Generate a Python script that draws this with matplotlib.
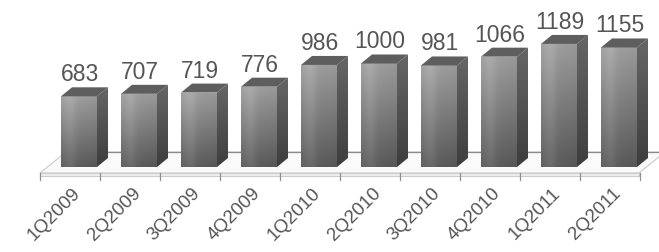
import numpy as np
import matplotlib
matplotlib.use("Agg")
import matplotlib.pyplot as plt
from matplotlib.patches import Polygon, Rectangle

categories = ["1Q2009", "2Q2009", "3Q2009", "4Q2009", "1Q2010",
              "2Q2010", "3Q2010", "4Q2010", "1Q2011", "2Q2011"]
values = [683, 707, 719, 776, 986, 1000, 981, 1066, 1189, 1155]

W, H = 659, 252
fig = plt.figure(figsize=(W / 100, H / 100), dpi=100)
ax = fig.add_axes([0, 0, 1, 1])
ax.set_axis_off()

# scales: px per x-unit and px per value
PX_X = 60.0
PX_Y = 0.1035
X0_PX = 79.0          # first bar centre (px from left)
Y0_PX = 85.0          # baseline (px from bottom)
ax.set_xlim(-X0_PX / PX_X, (W - X0_PX) / PX_X)
ax.set_ylim(-Y0_PX / PX_Y, (H - Y0_PX) / PX_Y)

def px2y(py_top):
    return (H - py_top - Y0_PX) / PX_Y

def px2x(px):
    return (px - X0_PX) / PX_X

dx = 11 / PX_X   # depth offset
dy = 9 / PX_Y
bw = 36 / PX_X
x = np.arange(len(values))

# floor
fy_front = px2y(173)
fy_back = px2y(152)
fx_l = px2x(40)
fx_r = px2x(639)
fdx = 26 / PX_X
floor = Polygon([(fx_l, fy_front), (fx_r, fy_front), (fx_r + fdx, fy_back),
                 (fx_l + fdx, fy_back)], closed=True, facecolor="#fafafa",
                edgecolor="#cfcfcf", lw=0.9, zorder=1)
ax.add_patch(floor)
ax.plot([fx_l + fdx, fx_r + fdx], [fy_back, fy_back], color="#8a8a8a", lw=0.9, zorder=1.5)
slab = Rectangle((fx_l, px2y(176)), fx_r - fx_l, fy_front - px2y(176),
                 facecolor="#eeeeee", edgecolor="#cccccc", lw=0.8, zorder=1.6)
ax.add_patch(slab)
for k in range(len(values) + 1):
    tx = fx_l + k
    ax.plot([tx, tx], [px2y(173), px2y(180)], color="#909090", lw=0.9, zorder=1.7)

# gradients
ny = 64
front_grad = np.zeros((ny, 32, 3))
vert = np.linspace(0.63, 0.37, ny)[:, None]
hz = np.linspace(0, 1, 32)[None, :]
hl = 0.05 * np.exp(-((hz - 0.25) / 0.18) ** 2) - 0.03 * hz
front_grad[:] = np.clip(vert + hl, 0, 1)[:, :, None]
side_grad = np.zeros((ny, 8, 3))
side_grad[:] = np.clip(np.linspace(0.40, 0.24, ny)[:, None] + np.zeros((1, 8)), 0, 1)[:, :, None]

bars = ax.bar(x, values, width=bw, facecolor="none", edgecolor="none", zorder=3)
for xi, v, b in zip(x, values, bars):
    l, r = xi - bw / 2, xi + bw / 2
    im = ax.imshow(front_grad, extent=(l, r, 0, v), aspect="auto",
                   origin="upper", zorder=3, interpolation="bilinear")
    im.set_clip_path(b)
    side = Polygon([(r, 0), (r + dx, dy), (r + dx, v + dy), (r, v)], closed=True,
                   facecolor="none", edgecolor="none", zorder=3)
    ax.add_patch(side)
    im2 = ax.imshow(side_grad, extent=(r, r + dx, 0, v + dy), aspect="auto",
                    origin="upper", zorder=3, interpolation="bilinear")
    im2.set_clip_path(side)
    top = Polygon([(l, v), (r, v), (r + dx, v + dy), (l + dx, v + dy)], closed=True,
                  facecolor="#5e5e5e", edgecolor="none", zorder=3.5)
    ax.add_patch(top)
    ax.text(xi + dx * 0.1, v + dy + 6 / PX_Y, str(v), ha="center", va="baseline",
            fontsize=16.5, color="#555555", family="Liberation Sans", zorder=5)

for xi, c in zip(x, categories):
    ax.text(xi + 0.08, px2y(185), c, rotation=45, ha="right", va="top",
            fontsize=13.5, color="#555555", family="Liberation Sans")

fig.savefig("out.png", dpi=100)
